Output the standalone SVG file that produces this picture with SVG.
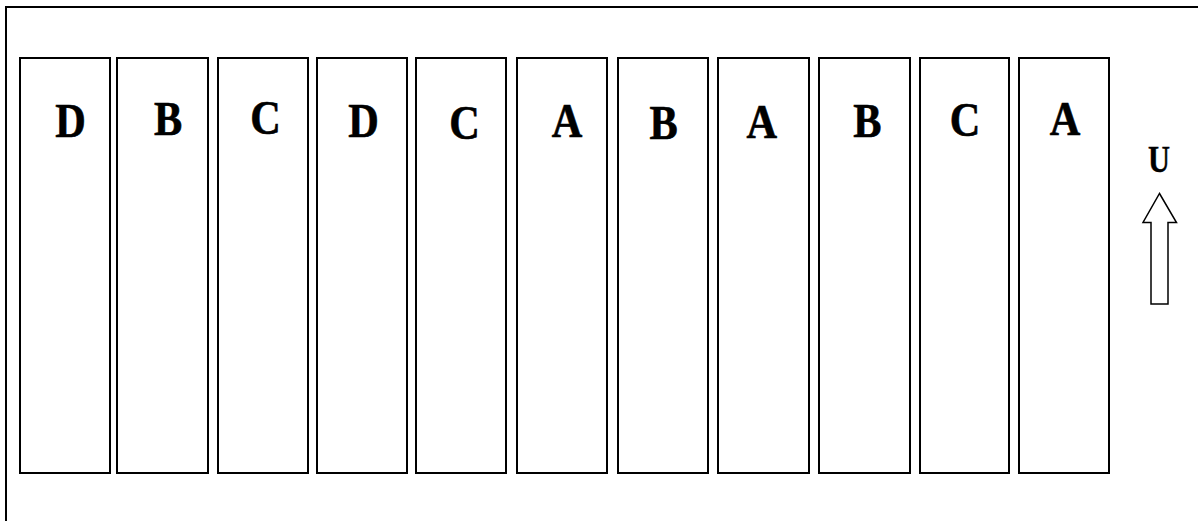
<svg xmlns="http://www.w3.org/2000/svg" width="1198" height="521" viewBox="0 0 1198 521">
<style>
.box{fill:#fff;stroke:#000;stroke-width:2}
.lbl{font-family:"Liberation Serif","Times New Roman",serif;font-weight:bold;font-size:45px;text-anchor:middle;fill:#000;stroke:#000;stroke-width:0.6}
.u{font-family:"Liberation Serif","Times New Roman",serif;font-weight:bold;font-size:32px;text-anchor:middle;fill:#000;stroke:#000;stroke-width:0.4}
</style>
<rect width="1198" height="521" fill="#fff"/>
<path d="M6,521 V7 H1198" fill="none" stroke="#000" stroke-width="2"/>
<g id="n1"><rect class="box" x="20" y="58" width="90" height="415"/><text class="lbl" transform="translate(70.5,137) scale(0.94,1.1)">D</text></g>
<g id="n2"><rect class="box" x="117" y="58" width="91" height="415"/><text class="lbl" transform="translate(168,135) scale(0.94,1.1)">B</text></g>
<g id="n3"><rect class="box" x="218" y="58" width="90" height="415"/><text class="lbl" transform="translate(265.5,133.5) scale(0.94,1.1)">C</text></g>
<g id="n4"><rect class="box" x="317" y="58" width="90" height="415"/><text class="lbl" transform="translate(363.5,137) scale(0.94,1.1)">D</text></g>
<g id="n5"><rect class="box" x="416" y="58" width="90" height="415"/><text class="lbl" transform="translate(464.5,139) scale(0.94,1.1)">C</text></g>
<g id="n6"><rect class="box" x="517" y="58" width="90" height="415"/><text class="lbl" transform="translate(567,137) scale(0.94,1.1)">A</text></g>
<g id="n7"><rect class="box" x="618" y="58" width="90" height="415"/><text class="lbl" transform="translate(663.7,139) scale(0.94,1.1)">B</text></g>
<g id="n8"><rect class="box" x="718" y="58" width="91" height="415"/><text class="lbl" transform="translate(761.7,137.5) scale(0.94,1.1)">A</text></g>
<g id="n9"><rect class="box" x="819" y="58" width="91" height="415"/><text class="lbl" transform="translate(867.3,137) scale(0.94,1.1)">B</text></g>
<g id="n10"><rect class="box" x="920" y="58" width="89" height="415"/><text class="lbl" transform="translate(965,136) scale(0.94,1.1)">C</text></g>
<g id="n11"><rect class="box" x="1019" y="58" width="90" height="415"/><text class="lbl" transform="translate(1065,135) scale(0.94,1.1)">A</text></g>
<g id="direction">
<text class="u" transform="translate(1159,171.5) scale(0.95,1.2)">U</text>
<polygon points="1159.5,193.5 1176.5,222.5 1168,222.5 1168,304 1151,304 1151,222.5 1143,222.5" fill="#fff" stroke="#000" stroke-width="1.5"/>
</g>
</svg>
